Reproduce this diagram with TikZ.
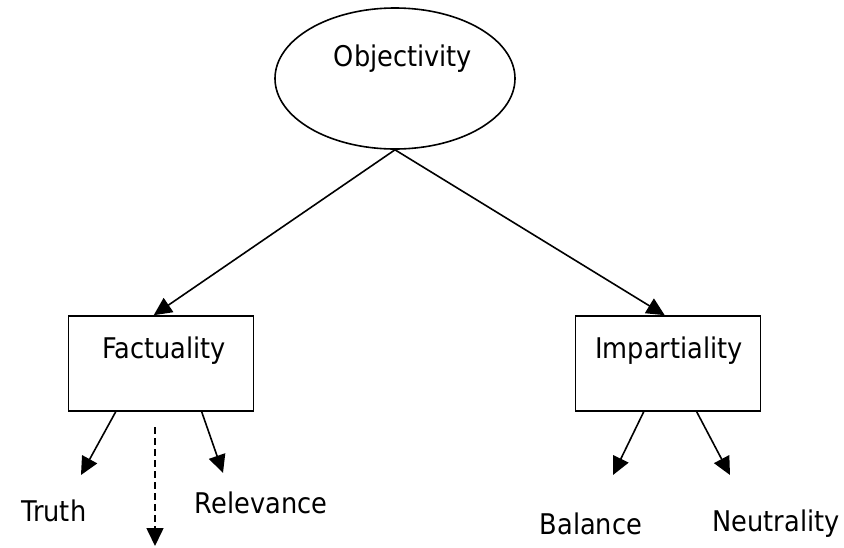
\documentclass[tikz,border=0pt]{standalone}
\usepackage{fontspec}
\setmainfont{DejaVu Sans Condensed}
\usetikzlibrary{shapes.geometric,arrows.meta}

\begin{document}
\begin{tikzpicture}[x=1pt,y=-1pt,line width=1.6pt,
  lbl/.style={anchor=base,inner sep=0pt,font=\fontsize{28.5}{34}\selectfont},
  box/.style={draw,rectangle,minimum width=185pt,minimum height=95pt},
  arr/.style={-{Triangle[length=18pt,width=17pt]}}]
\useasboundingbox (0,0) rectangle (844,547);
\node [draw,ellipse,minimum width=240pt,minimum height=141pt] (obj) at (395,78.5) {};
\node [lbl] (objlbl) at (403,66) {Objectivity};
\node [box] (fact) at (161,363.5) {};
\node [lbl] (factlbl) at (164,358) {Factuality};
\node [box] (imp) at (668,363.5) {};
\node [lbl] (implbl) at (669,358) {Impartiality};
\node [lbl] (truth) at (54,521) {Truth};
\node [lbl] (relev) at (261,513) {Relevance};
\node [lbl] (bal) at (591,534) {Balance};
\node [lbl] (neut) at (776,531) {Neutrality};
\coordinate (truthtip) at (81,475);
\coordinate (reletip) at (223,473);
\coordinate (dashtop) at (155,427);
\coordinate (dashtip) at (155,546);
\coordinate (baltip) at (613,475);
\coordinate (neuttip) at (730,475);
\draw [arr] (obj.south) -- ([xshift=86pt]fact.north west);
\draw [arr] (obj.south) -- ([xshift=90pt]imp.north west);
\draw [arr] ([xshift=48pt]fact.south west) -- (truthtip);
\draw [arr] ([xshift=134pt]fact.south west) -- (reletip);
\draw [arr,dash pattern=on 7pt off 4pt] (dashtop) -- (dashtip);
\draw [arr] ([xshift=69pt]imp.south west) -- (baltip);
\draw [arr] ([xshift=122pt]imp.south west) -- (neuttip);
\end{tikzpicture}
\end{document}
